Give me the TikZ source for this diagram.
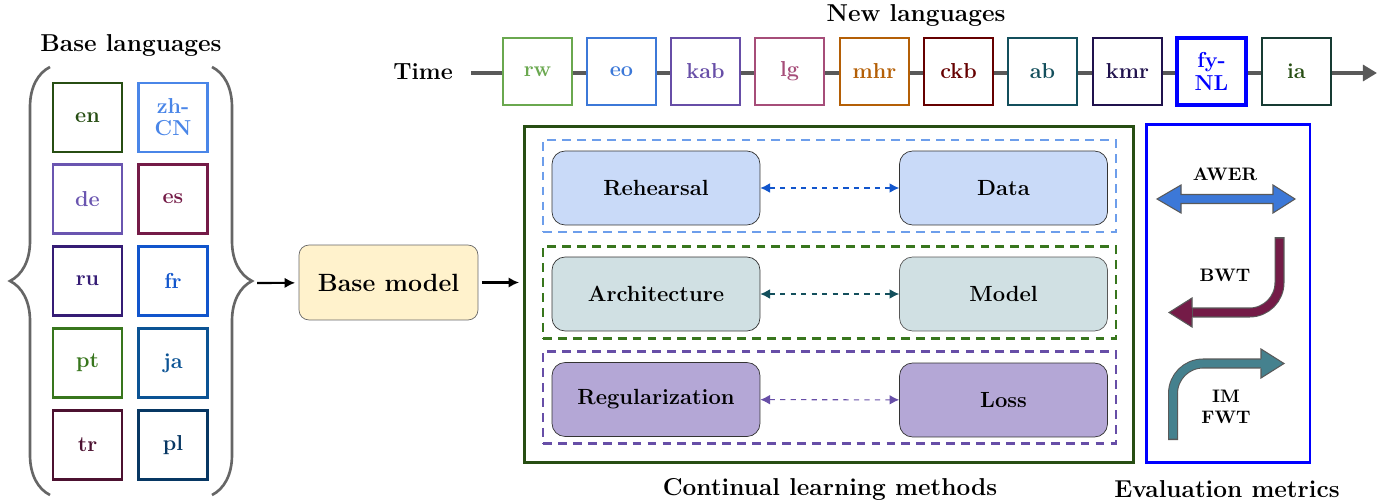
\documentclass[tikz,border=0pt]{standalone}
\usepackage{fontspec}
\usetikzlibrary{arrows.meta,decorations.pathreplacing,positioning}

\definecolor{enc}{HTML}{274E13}
\definecolor{zhc}{HTML}{4A86E8}
\definecolor{dec}{HTML}{6A55B0}
\definecolor{esc}{HTML}{741B47}
\definecolor{ruc}{HTML}{351C75}
\definecolor{frc}{HTML}{1155CC}
\definecolor{ptc}{HTML}{38761D}
\definecolor{jac}{HTML}{0B5394}
\definecolor{trc}{HTML}{4C1130}
\definecolor{plc}{HTML}{073763}
\definecolor{rwc}{HTML}{6AA84F}
\definecolor{eoc}{HTML}{3C78D8}
\definecolor{kabc}{HTML}{674EA7}
\definecolor{lgc}{HTML}{A64D79}
\definecolor{mhrc}{HTML}{B45F06}
\definecolor{ckbc}{HTML}{660000}
\definecolor{abc}{HTML}{134F5C}
\definecolor{kmrc}{HTML}{20124D}
\definecolor{fyc}{HTML}{0000FF}
\definecolor{iac}{HTML}{173B33}
\definecolor{bracegray}{HTML}{666666}
\definecolor{timegray}{HTML}{595959}
\definecolor{basebg}{HTML}{FFF2CC}
\definecolor{clgreen}{HTML}{274E13}
\definecolor{rehbg}{HTML}{C9DAF8}
\definecolor{archbg}{HTML}{D0E0E3}
\definecolor{regbg}{HTML}{B4A7D6}
\definecolor{rehdash}{HTML}{6D9EEB}
\definecolor{archdash}{HTML}{38761D}
\definecolor{regdash}{HTML}{674EA7}
\definecolor{awerc}{HTML}{3C78D8}
\definecolor{bwtc}{HTML}{741B47}
\definecolor{fwtc}{HTML}{45818E}

\begin{document}
\begin{tikzpicture}[x=0.02cm,y=-0.02cm,
  every node/.style={font=\bfseries},
  >={Latex[length=6pt,width=6pt]},
  title/.style={font=\fontsize{13.9}{16}\selectfont\bfseries},
  lang/.style={draw=#1,text=#1,line width=1.5pt,fill=white,minimum width=1.38cm,minimum height=1.38cm,align=center,inner sep=1pt,font=\fontsize{12.3}{12.6}\selectfont\bfseries},
  newlang/.style={lang=#1,minimum height=1.34cm},
  method/.style={draw=black!80,fill=#1,rounded corners=0.26cm,minimum width=4.16cm,minimum height=1.48cm,font=\fontsize{12.5}{14}\selectfont\bfseries},
  group/.style={draw=#1,dash pattern=on 5pt off 3.5pt,line width=1.3pt,minimum width=11.46cm,minimum height=1.84cm},
  link/.style={<->,dashed,semithick,#1,>={Latex[length=5.5pt,width=5.5pt]}},
  metric/.style={font=\fontsize{10.3}{12}\selectfont\bfseries,align=center,inner sep=1pt},
  edge/.style={line width=5.7pt,timegray,rounded corners=0.6cm},
]
  \useasboundingbox (0,0) rectangle (1395,503);

  % base languages
  \node[title] (basetitle) at (131,45) {Base languages};
  \node[lang=enc] (en) at (87.5,117.5) {en};
  \node[lang=zhc] (zh) at (173,117.5) {zh-\\CN};
  \node[lang=dec] (de) at (87.5,199) {de};
  \node[lang=esc] (es) at (173,199) {es};
  \node[lang=ruc] (ru) at (87.5,281) {ru};
  \node[lang=frc] (fr) at (173,281) {fr};
  \node[lang=ptc] (pt) at (87.5,363) {pt};
  \node[lang=jac] (ja) at (173,363) {ja};
  \node[lang=trc] (tr) at (87.5,445) {tr};
  \node[lang=plc] (pl) at (173,445) {pl};
  \draw[bracegray,line width=1.5pt,decorate,decoration={brace,amplitude=0.8cm}] (50,495) -- (50,67);
  \draw[bracegray,line width=1.5pt,decorate,decoration={brace,amplitude=0.8cm}] (212,67) -- (212,495);
  \coordinate (brtip) at (257,283);

  % base model
  \node[draw=black!60,fill=basebg,rounded corners=0.2cm,minimum width=3.58cm,minimum height=1.5cm,title,font=\fontsize{14.2}{16}\selectfont\bfseries] (basemodel) at (388.5,282.5) {Base model};
  \draw[->,line width=1.2pt,shorten >=2pt] (brtip) -- (basemodel);

  % new languages on the time line
  \node[title] (newtitle) at (916,15) {New languages};
  \node[font=\fontsize{13.3}{15}\selectfont\bfseries] (time) at (423,72) {Time};
  \coordinate (tend) at (1377,73);
  \draw[timegray,line width=2.8pt,-{Triangle[length=8pt,width=9pt]},shorten <=2.5mm] (time.east |- tend) -- (tend);
  \node[newlang=rwc] (rw) at (537.5,71.5) {rw};
  \node[newlang=eoc] (eo) at (621.5,71.5) {eo};
  \node[newlang=kabc] (kab) at (705.5,71.5) {kab};
  \node[newlang=lgc] (lg) at (789.5,71.5) {lg};
  \node[newlang=mhrc] (mhr) at (874.5,71.5) {mhr};
  \node[newlang=ckbc] (ckb) at (958.5,71.5) {ckb};
  \node[newlang=abc] (ab) at (1042.5,71.5) {ab};
  \node[newlang=kmrc] (kmr) at (1127.5,71.5) {kmr};
  \node[newlang=fyc,line width=1.8pt] (fy) at (1211.5,71.5) {fy-\\NL};
  \node[newlang=iac,text=enc] (ia) at (1296.5,71.5) {ia};

  % continual learning methods
  \node[draw=clgreen,line width=1.7pt,minimum width=12.2cm,minimum height=6.74cm] (clbox) at (829,294.5) {};
  \draw[->,line width=1.2pt,shorten <=2pt,shorten >=2pt] (basemodel.east) -- (basemodel.east -| clbox.west);
  \node[group=rehdash] (rehgroup) at (829.5,186) {};
  \node[group=archdash] (archgroup) at (829.5,292.5) {};
  \node[group=regdash] (reggroup) at (829.5,397.5) {};
  \node[method=rehbg] (reh) at (656,188) {Rehearsal};
  \node[method=rehbg] (data) at (1003.5,188) {Data};
  \node[method=archbg] (arch) at (656,294) {Architecture};
  \node[method=archbg,draw=black!65] (model) at (1003.5,294) {Model};
  \node[method=regbg] (reg) at (656,399.5) {Regularization};
  \node[method=regbg] (loss) at (1003.5,400) {Loss};
  \draw[link=frc] (reh) -- (data);
  \draw[link=abc] (arch) -- (model);
  \draw[link=regdash] (reg) -- (loss);
  \node[title] (cllabel) at (830,489) {Continual learning methods};

  % evaluation metrics
  \node[draw=blue,line width=1.7pt,minimum width=3.28cm,minimum height=6.78cm] (evalbox) at (1228,293.5) {};
  \node[metric] (awer) at (1225,174) {AWER};
  \draw[timegray,fill=awerc,line width=0.6pt] (1157,199) -- (1181,185) -- (1181,194.5) -- (1273,194.5) -- (1273,185) -- (1295,199) -- (1273,213) -- (1273,203.5) -- (1181,203.5) -- (1181,213) -- cycle;
  \node[metric] (bwt) at (1225,275) {BWT};
  \draw[edge] (1279.5,237) |- (1192,312.5);
  \draw[edge,bwtc,line width=4.5pt] (1279.5,238.5) |- (1193,312.5);
  \fill[bwtc] (1192,298) -- (1169,312.5) -- (1192,327) -- cycle;
  \draw[timegray,line width=0.6pt] (1192,307.5) -- (1192,298) -- (1169,312.5) -- (1192,327) -- (1192,317.5);
  \node[metric] (fwt) at (1226,407) {IM\\FWT};
  \draw[edge] (1173,440) |- (1261,363.5);
  \draw[edge,fwtc,line width=4.5pt] (1173,438.5) |- (1262,363.5);
  \fill[fwtc] (1261,349) -- (1284,363.5) -- (1261,378) -- cycle;
  \draw[timegray,line width=0.6pt] (1261,358.5) -- (1261,349) -- (1284,363.5) -- (1261,378) -- (1261,368.5);
  \node[title] (evallabel) at (1227,489) {Evaluation metrics};
\end{tikzpicture}
\end{document}
